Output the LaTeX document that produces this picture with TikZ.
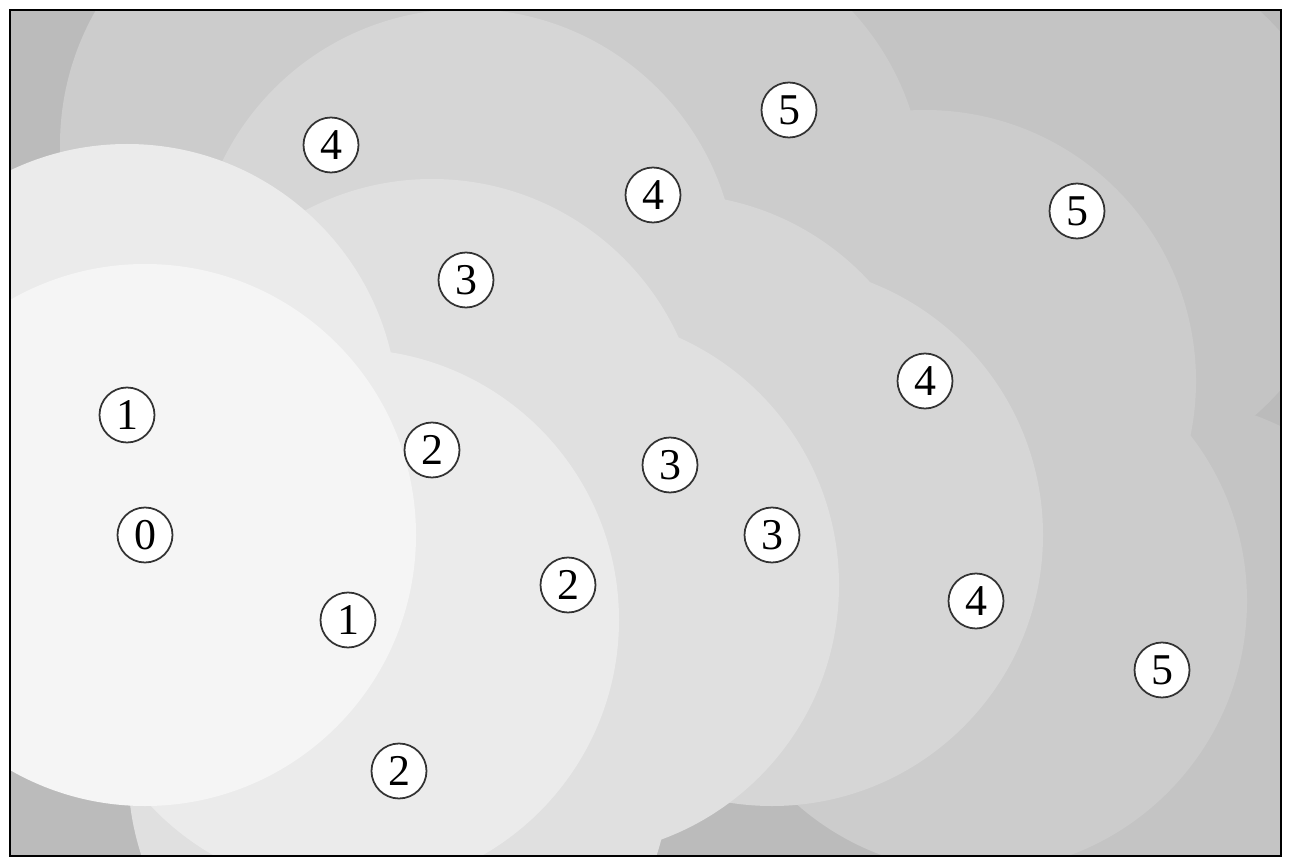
\documentclass[tikz,border=0pt]{standalone}
\usepackage{fontspec}
\setmainfont{Liberation Serif}
\usetikzlibrary{positioning}
\definecolor{bgGrey}{HTML}{BBBBBB}
\definecolor{lvlFive}{HTML}{C4C4C4}
\definecolor{lvlFour}{HTML}{CCCCCC}
\definecolor{lvlThree}{HTML}{D6D6D6}
\definecolor{lvlTwo}{HTML}{E0E0E0}
\definecolor{lvlOne}{HTML}{EBEBEB}
\definecolor{lvlZero}{HTML}{F5F5F5}
\definecolor{rim}{HTML}{333333}

\begin{document}
\begin{tikzpicture}[
  frame/.style={draw=black, line width=1.4pt},
  pointlabel/.style={
    circle, draw=rim, line width=1pt,
    fill=white, inner sep=0pt,
    minimum size=1.1cm,
    font=\fontsize{25}{29}\selectfont
  }
]

\useasboundingbox (0,0) rectangle (25.78,17.28);

% Sample points, grouped by level
\coordinate (q0)  at (2.90, 6.58);
\coordinate (q1a) at (2.54, 8.98);
\coordinate (q1b) at (6.96, 4.88);
\coordinate (q2a) at (8.64, 8.28);
\coordinate (q2b) at (11.36, 5.58);
\coordinate (q2c) at (7.98, 1.86);
\coordinate (q3a) at (9.32, 11.68);
\coordinate (q3b) at (13.40, 7.98);
\coordinate (q3c) at (15.44, 6.58);
\coordinate (q4a) at (6.62, 14.38);
\coordinate (q4b) at (13.06, 13.38);
\coordinate (q4c) at (18.50, 9.66);
\coordinate (q4d) at (19.52, 5.26);
\coordinate (q5a) at (15.78, 15.08);
\coordinate (q5b) at (21.54, 13.06);
\coordinate (q5c) at (23.24, 3.88);

% Discs, outermost level first
\begin{scope}
  \clip (0.20,0.16) rectangle (25.62,17.08);
  \fill[bgGrey] (0.20,0.16) rectangle (25.62,17.08);
  \foreach \p in {q5a,q5b,q5c} \fill[lvlFive] (\p) circle[radius=5.42cm];
  \foreach \p in {q4a,q4b,q4c,q4d} \fill[lvlFour] (\p) circle[radius=5.42cm];
  \foreach \p in {q3a,q3b,q3c} \fill[lvlThree] (\p) circle[radius=5.42cm];
  \foreach \p in {q2a,q2b,q2c} \fill[lvlTwo] (\p) circle[radius=5.42cm];
  \foreach \p in {q1a,q1b} \fill[lvlOne] (\p) circle[radius=5.42cm];
  \fill[lvlZero] (q0) circle[radius=5.42cm];
\end{scope}

\draw[frame] (0.20,0.16) rectangle (25.62,17.08);

% Level labels
\node[pointlabel] (n0)  at (q0)  {0};
\node[pointlabel] (n1a) at (q1a) {1};
\node[pointlabel] (n1b) at (q1b) {1};
\node[pointlabel] (n2a) at (q2a) {2};
\node[pointlabel] (n2b) at (q2b) {2};
\node[pointlabel] (n2c) at (q2c) {2};
\node[pointlabel] (n3a) at (q3a) {3};
\node[pointlabel] (n3b) at (q3b) {3};
\node[pointlabel] (n3c) at (q3c) {3};
\node[pointlabel] (n4a) at (q4a) {4};
\node[pointlabel] (n4b) at (q4b) {4};
\node[pointlabel] (n4c) at (q4c) {4};
\node[pointlabel] (n4d) at (q4d) {4};
\node[pointlabel] (n5a) at (q5a) {5};
\node[pointlabel] (n5b) at (q5b) {5};
\node[pointlabel] (n5c) at (q5c) {5};

\end{tikzpicture}
\end{document}
